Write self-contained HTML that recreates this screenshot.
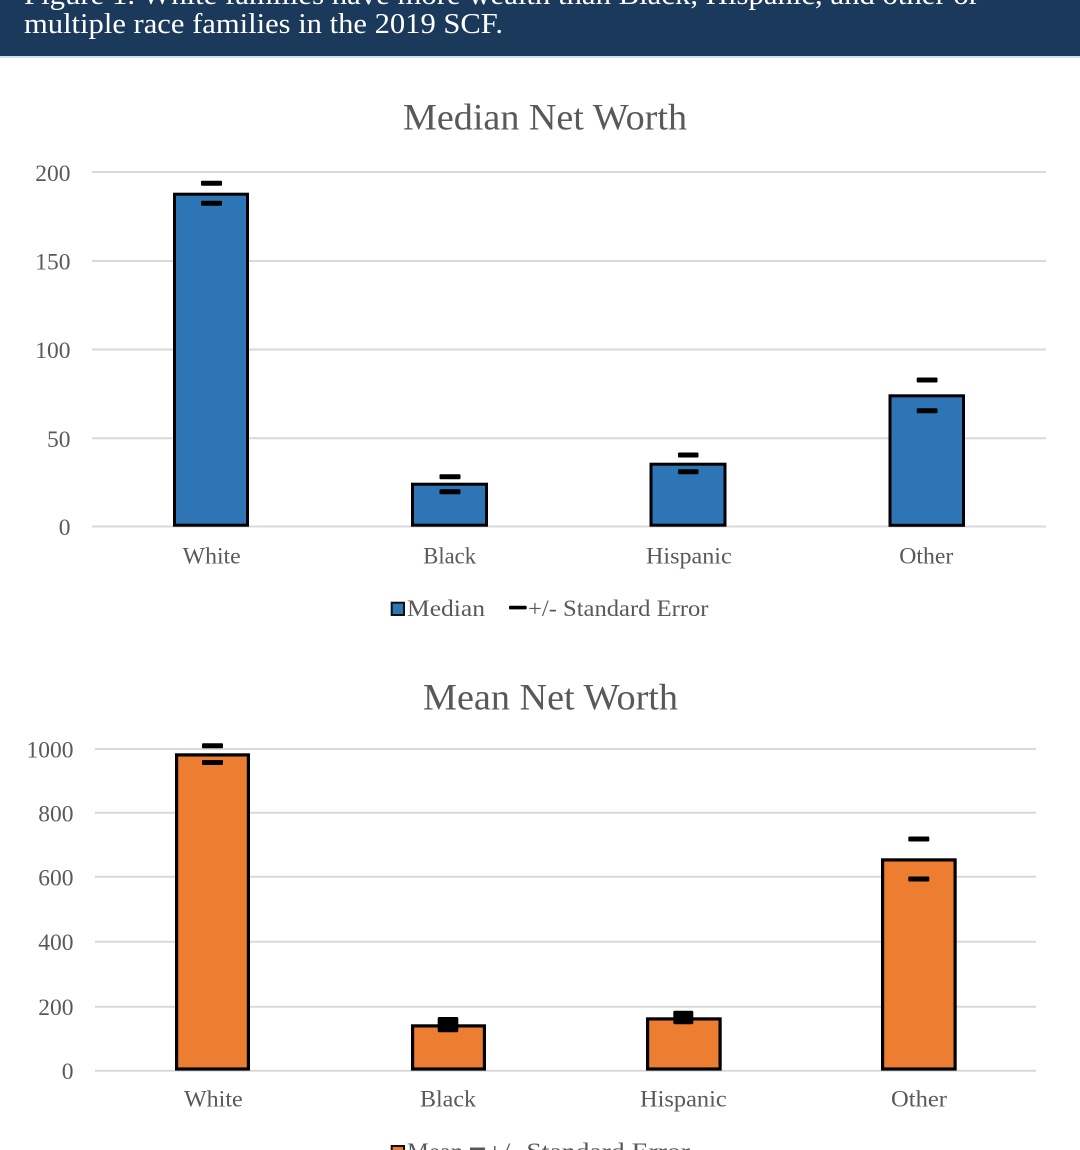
<!DOCTYPE html>
<html>
<head>
<meta charset="utf-8">
<style>
  html,body{margin:0;padding:0;background:#fff;}
  svg{display:block;}
  text{font-family:"Liberation Serif","Times New Roman",serif;}
</style>
</head>
<body>
<svg width="1080" height="1150" viewBox="0 0 1080 1150" xmlns="http://www.w3.org/2000/svg">
  <rect x="0" y="0" width="1080" height="1150" fill="#ffffff"/>
  <!-- Header -->
  <rect x="0" y="0" width="1080" height="56" fill="#1b3a5b"/>
  <rect x="0" y="56" width="1080" height="2" fill="#cfe0ea"/>
  <text x="24" y="4" font-size="28" fill="#ffffff" textLength="955" lengthAdjust="spacingAndGlyphs">Figure 1. White families have more wealth than Black, Hispanic, and other or</text>
  <text x="24" y="33" font-size="28" fill="#ffffff" textLength="479" lengthAdjust="spacingAndGlyphs">multiple race families in the 2019 SCF.</text>

  <!-- ===== Top chart: Median Net Worth ===== -->
  <text x="403" y="129.5" font-size="37" fill="#595959" textLength="284" lengthAdjust="spacingAndGlyphs">Median Net Worth</text>

  <g stroke="#d9d9d9" stroke-width="2">
    <line x1="92" y1="172" x2="1046" y2="172"/>
    <line x1="92" y1="261" x2="1046" y2="261"/>
    <line x1="92" y1="349.5" x2="1046" y2="349.5"/>
    <line x1="92" y1="438.3" x2="1046" y2="438.3"/>
    <line x1="92" y1="526.5" x2="1046" y2="526.5"/>
  </g>
  <g font-size="23.5" fill="#595959" text-anchor="end">
    <text x="70.5" y="181">200</text>
    <text x="70.5" y="269.5">150</text>
    <text x="70.5" y="358">100</text>
    <text x="70.5" y="447">50</text>
    <text x="70.5" y="535">0</text>
  </g>

  <g fill="#2e75b6" stroke="#000" stroke-width="3">
    <rect x="174.5" y="194.2" width="73" height="331"/>
    <rect x="412.5" y="484.2" width="74" height="41"/>
    <rect x="651" y="464.2" width="74" height="61"/>
    <rect x="890" y="395.8" width="73.5" height="129.5"/>
  </g>
  <g fill="#000">
    <rect x="201" y="180.8" width="21" height="5" rx="1"/>
    <rect x="201" y="200.8" width="21" height="5" rx="1"/>
    <rect x="439.5" y="474.2" width="21" height="5" rx="1"/>
    <rect x="439.5" y="489.2" width="21" height="5" rx="1"/>
    <rect x="678" y="452.5" width="20.5" height="5" rx="1"/>
    <rect x="678" y="469.3" width="20.5" height="5" rx="1"/>
    <rect x="916.7" y="377.5" width="20.8" height="5" rx="1"/>
    <rect x="916.7" y="408.2" width="20.8" height="5" rx="1"/>
  </g>

  <g font-size="23.5" fill="#595959">
    <text x="182.7" y="563.3" textLength="58" lengthAdjust="spacingAndGlyphs">White</text>
    <text x="423.3" y="563.3" textLength="52.7" lengthAdjust="spacingAndGlyphs">Black</text>
    <text x="646" y="563.3" textLength="85.7" lengthAdjust="spacingAndGlyphs">Hispanic</text>
    <text x="899.3" y="563.3" textLength="54" lengthAdjust="spacingAndGlyphs">Other</text>
  </g>

  <!-- Top legend -->
  <rect x="391.7" y="602.7" width="12.3" height="12.3" fill="#2e75b6" stroke="#111" stroke-width="2"/>
  <text x="407" y="616" font-size="23.5" fill="#595959" textLength="78" lengthAdjust="spacingAndGlyphs">Median</text>
  <rect x="509" y="605.8" width="17.7" height="3.6" fill="#000" rx="1"/>
  <text x="528" y="616" font-size="23.5" fill="#595959" textLength="180.5" lengthAdjust="spacingAndGlyphs">+/- Standard Error</text>

  <!-- ===== Bottom chart: Mean Net Worth ===== -->
  <text x="423" y="709.5" font-size="37" fill="#595959" textLength="255" lengthAdjust="spacingAndGlyphs">Mean Net Worth</text>

  <g stroke="#d9d9d9" stroke-width="2">
    <line x1="95" y1="749" x2="1036" y2="749"/>
    <line x1="95" y1="812.8" x2="1036" y2="812.8"/>
    <line x1="95" y1="876.8" x2="1036" y2="876.8"/>
    <line x1="95" y1="941.7" x2="1036" y2="941.7"/>
    <line x1="95" y1="1006.7" x2="1036" y2="1006.7"/>
    <line x1="95" y1="1070.7" x2="1036" y2="1070.7"/>
  </g>
  <g font-size="23.5" fill="#595959" text-anchor="end">
    <text x="73.5" y="757.5">1000</text>
    <text x="73.5" y="821.3">800</text>
    <text x="73.5" y="885.3">600</text>
    <text x="73.5" y="950.2">400</text>
    <text x="73.5" y="1015.2">200</text>
    <text x="73.5" y="1079.2">0</text>
  </g>

  <g fill="#ed7d31" stroke="#000" stroke-width="3.2">
    <rect x="176.6" y="754.9" width="71.8" height="314.1"/>
    <rect x="412.6" y="1025.9" width="71.8" height="43.1"/>
    <rect x="647.6" y="1018.9" width="72.5" height="50.1"/>
    <rect x="882.6" y="859.9" width="72.5" height="209.1"/>
  </g>
  <g fill="#000">
    <rect x="202" y="743.3" width="21" height="5" rx="1"/>
    <rect x="202" y="760" width="21" height="5" rx="1"/>
    <rect x="437.7" y="1017" width="20.6" height="15.3" rx="1.5"/>
    <rect x="673.3" y="1010.7" width="20" height="13.6" rx="1.5"/>
    <rect x="908.3" y="836.5" width="21" height="5" rx="1"/>
    <rect x="908.3" y="876.5" width="21" height="5" rx="1"/>
  </g>

  <g font-size="23.5" fill="#595959">
    <text x="184" y="1106.7" textLength="58.7" lengthAdjust="spacingAndGlyphs">White</text>
    <text x="420" y="1106.7" textLength="56" lengthAdjust="spacingAndGlyphs">Black</text>
    <text x="640" y="1106.7" textLength="86.7" lengthAdjust="spacingAndGlyphs">Hispanic</text>
    <text x="891" y="1106.7" textLength="56" lengthAdjust="spacingAndGlyphs">Other</text>
  </g>

  <!-- Bottom legend (cut off) -->
  <rect x="391.7" y="1146" width="12.3" height="12.3" fill="#ed7d31" stroke="#111" stroke-width="2"/>
  <text x="407" y="1159" font-size="23.5" fill="#595959" textLength="56" lengthAdjust="spacingAndGlyphs">Mean</text>
  <rect x="470" y="1147.5" width="15" height="3" fill="#595959"/>
  <text x="487" y="1159" font-size="23.5" fill="#595959" textLength="203" lengthAdjust="spacingAndGlyphs">+/- Standard Error</text>
</svg>
</body>
</html>
